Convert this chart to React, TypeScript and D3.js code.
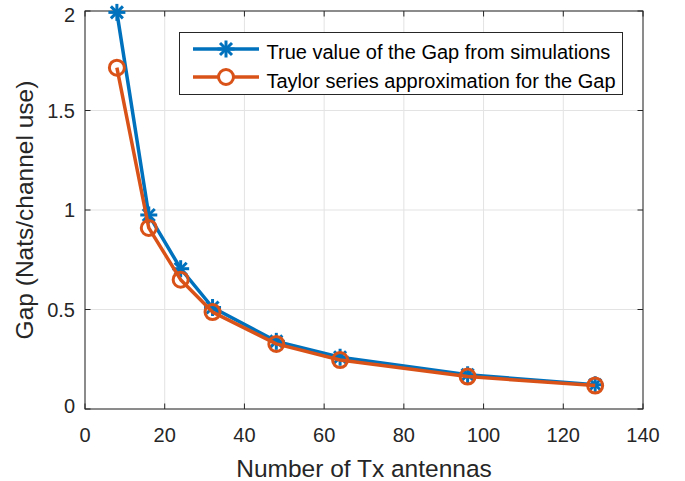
import React from "react";
import * as d3 from "d3";

const antennas = [8, 16, 24, 32, 48, 64, 96, 128];
const trueGap = [1.993, 0.975, 0.705, 0.51, 0.34, 0.26, 0.172, 0.122];
const taylorGap = [1.715, 0.91, 0.65, 0.487, 0.327, 0.246, 0.163, 0.118];
const xTicks = [0, 20, 40, 60, 80, 100, 120, 140];
const yTicks = [0, 0.5, 1, 1.5, 2];
const legendLabels = ["True value of the Gap from simulations", "Taylor series approximation for the Gap"];

const W = 685, H = 481;
const L = 85, R = 643, T = 11, B = 409;
const blue = "#0072BD", orange = "#D95319";
const font = "'Liberation Sans', Arial, Helvetica, sans-serif";
const LW = 3.5;

function Star({ x, y, s, color }: { x: number; y: number; s: number; color: string }) {
  const d = s * 0.707;
  return (
    <g stroke={color} strokeWidth={3}>
      <line x1={x - s} y1={y} x2={x + s} y2={y} />
      <line x1={x} y1={y - s} x2={x} y2={y + s} />
      <line x1={x - d} y1={y - d} x2={x + d} y2={y + d} />
      <line x1={x - d} y1={y + d} x2={x + d} y2={y - d} />
    </g>
  );
}

export default function App() {
  const x = d3.scaleLinear().domain([0, 140]).range([L, R]);
  const y = d3.scaleLinear().domain([0, 2]).range([B, T]);
  const line = d3.line<number>().x((_, i) => x(antennas[i])).y((v) => y(v));
  const yLabelShift = (t: number) => (t === 0 ? -3 : t === 2 ? 3.5 : 0);

  return (
    <svg width={W} height={H} style={{ position: "absolute", left: 0, top: 0, background: "#fff" }}>
      <rect x={0} y={0} width={W} height={H} fill="#fff" />
      {xTicks.map((t) => (
        <line key={"gx" + t} x1={x(t)} x2={x(t)} y1={T} y2={B} stroke="#e3e3e3" strokeWidth={1} />
      ))}
      {yTicks.map((t) => (
        <line key={"gy" + t} x1={L} x2={R} y1={y(t)} y2={y(t)} stroke="#e3e3e3" strokeWidth={1} />
      ))}
      {xTicks.map((t) => (
        <g key={"tx" + t}>
          <line x1={x(t)} x2={x(t)} y1={B} y2={B - 5.5} stroke="#262626" />
          <line x1={x(t)} x2={x(t)} y1={T} y2={T + 5.5} stroke="#262626" />
          <text x={x(t)} y={441.5} textAnchor="middle" fontSize={20} fontFamily={font} fill="#262626">{t}</text>
        </g>
      ))}
      {yTicks.map((t) => (
        <g key={"ty" + t}>
          <line x1={L} x2={L + 5.5} y1={y(t)} y2={y(t)} stroke="#262626" />
          <line x1={R} x2={R - 5.5} y1={y(t)} y2={y(t)} stroke="#262626" />
          <text x={75} y={y(t) + 7.3 + yLabelShift(t)} textAnchor="end" fontSize={20} fontFamily={font} fill="#262626">{t}</text>
        </g>
      ))}
      <rect x={L} y={T} width={R - L} height={B - T} fill="none" stroke="#262626" strokeWidth={1} />
      <path d={line(trueGap) || ""} fill="none" stroke={blue} strokeWidth={LW} strokeLinejoin="round" />
      {trueGap.map((v, i) => (
        <Star key={"s" + i} x={x(antennas[i])} y={y(v)} s={8.5} color={blue} />
      ))}
      <path d={line(taylorGap) || ""} fill="none" stroke={orange} strokeWidth={LW} strokeLinejoin="round" />
      {taylorGap.map((v, i) => (
        <circle key={"c" + i} cx={x(antennas[i])} cy={y(v)} r={7.5} fill="none" stroke={orange} strokeWidth={3} />
      ))}
      <rect x={179.5} y={32.5} width={443} height={62} fill="#fff" stroke="#262626" strokeWidth={1} />
      <line x1={193} x2={259} y1={49} y2={49} stroke={blue} strokeWidth={LW} />
      <Star x={226} y={49} s={8.5} color={blue} />
      <text x={266.5} y={59} fontSize={20} fontFamily={font} fill="#000">{legendLabels[0]}</text>
      <line x1={193} x2={259} y1={77} y2={77} stroke={orange} strokeWidth={LW} />
      <circle cx={226} cy={77} r={7.5} fill="#fff" stroke={orange} strokeWidth={3} />
      <text x={266.5} y={87.5} fontSize={20} fontFamily={font} fill="#000">{legendLabels[1]}</text>
      <text x={(L + R) / 2} y={477} textAnchor="middle" fontSize={24.5} fontFamily={font} fill="#262626">Number of Tx antennas</text>
      <text transform={`translate(33, ${(T + B) / 2}) rotate(-90)`} textAnchor="middle" fontSize={24.5} fontFamily={font} fill="#262626">Gap (Nats/channel use)</text>
    </svg>
  );
}
